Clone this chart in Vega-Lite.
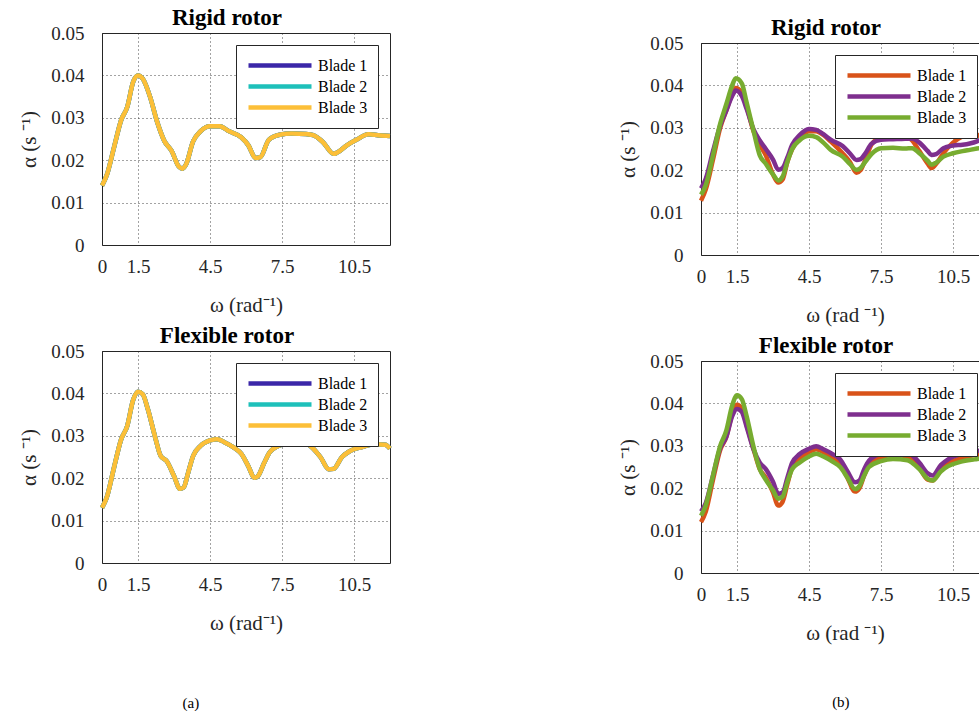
{
  "$schema": "https://vega.github.io/schema/vega-lite/v6.json",
  "padding": {"left": 18, "top": 5, "right": 0, "bottom": 0},
  "background": "white",
  "config": {
    "font": "Liberation Serif",
    "view": {"stroke": "#262626", "strokeWidth": 1},
    "axis": {
      "labelFont": "Liberation Serif", "labelFontSize": 19, "labelColor": "#262626",
      "titleFont": "Liberation Serif", "titleFontSize": 21, "titleFontWeight": "normal", "titleColor": "#262626",
      "ticks": false, "domain": false, "grid": true, "gridColor": "#262626", "gridDash": [1, 3], "gridOpacity": 0.85, "gridWidth": 1,
      "labelOverlap": false, "labelFlush": false
    },
    "axisX": {"labelPadding": 12, "titlePadding": 18},
    "axisY": {"labelPadding": 18, "titlePadding": 11},
    "legend": {
      "title": null, "orient": "top-right", "offset": 12, "symbolType": "stroke", "symbolSize": 3969,
      "symbolStrokeWidth": 4.5, "clipHeight": 21, "rowPadding": 0, "labelFont": "Liberation Serif",
      "labelFontSize": 16, "labelColor": "black", "labelOffset": 4, "padding": 10,
      "fillColor": "white", "strokeColor": "#262626"
    },
    "title": {"fontSize": 23, "fontWeight": "bold", "color": "black", "font": "Liberation Serif", "dx": -19, "offset": -6},
    "line": {"strokeWidth": 4.5, "interpolate": "monotone"}
  },
  "datasets": {
    "la": [
      {"w": 0, "Blade 1": 0.0140, "Blade 2": 0.0140, "Blade 3": 0.0140},
      {"w": 0.2, "Blade 1": 0.0165, "Blade 2": 0.0165, "Blade 3": 0.0165},
      {"w": 0.5, "Blade 1": 0.0230, "Blade 2": 0.0230, "Blade 3": 0.0230},
      {"w": 0.8, "Blade 1": 0.0295, "Blade 2": 0.0295, "Blade 3": 0.0295},
      {"w": 1.05, "Blade 1": 0.0325, "Blade 2": 0.0325, "Blade 3": 0.0325},
      {"w": 1.3, "Blade 1": 0.0385, "Blade 2": 0.0385, "Blade 3": 0.0385},
      {"w": 1.5, "Blade 1": 0.0400, "Blade 2": 0.0400, "Blade 3": 0.0400},
      {"w": 1.7, "Blade 1": 0.0392, "Blade 2": 0.0392, "Blade 3": 0.0392},
      {"w": 2.0, "Blade 1": 0.0350, "Blade 2": 0.0350, "Blade 3": 0.0350},
      {"w": 2.3, "Blade 1": 0.0290, "Blade 2": 0.0290, "Blade 3": 0.0290},
      {"w": 2.6, "Blade 1": 0.0245, "Blade 2": 0.0245, "Blade 3": 0.0245},
      {"w": 2.9, "Blade 1": 0.0222, "Blade 2": 0.0222, "Blade 3": 0.0222},
      {"w": 3.2, "Blade 1": 0.0185, "Blade 2": 0.0185, "Blade 3": 0.0185},
      {"w": 3.35, "Blade 1": 0.0180, "Blade 2": 0.0180, "Blade 3": 0.0180},
      {"w": 3.5, "Blade 1": 0.0190, "Blade 2": 0.0190, "Blade 3": 0.0190},
      {"w": 3.8, "Blade 1": 0.0245, "Blade 2": 0.0245, "Blade 3": 0.0245},
      {"w": 4.1, "Blade 1": 0.0268, "Blade 2": 0.0268, "Blade 3": 0.0268},
      {"w": 4.5, "Blade 1": 0.0280, "Blade 2": 0.0280, "Blade 3": 0.0280},
      {"w": 4.9, "Blade 1": 0.0280, "Blade 2": 0.0280, "Blade 3": 0.0280},
      {"w": 5.3, "Blade 1": 0.0268, "Blade 2": 0.0268, "Blade 3": 0.0268},
      {"w": 5.8, "Blade 1": 0.0254, "Blade 2": 0.0254, "Blade 3": 0.0254},
      {"w": 6.1, "Blade 1": 0.0235, "Blade 2": 0.0235, "Blade 3": 0.0235},
      {"w": 6.4, "Blade 1": 0.0205, "Blade 2": 0.0205, "Blade 3": 0.0205},
      {"w": 6.6, "Blade 1": 0.0207, "Blade 2": 0.0207, "Blade 3": 0.0207},
      {"w": 6.95, "Blade 1": 0.0248, "Blade 2": 0.0248, "Blade 3": 0.0248},
      {"w": 7.4, "Blade 1": 0.0260, "Blade 2": 0.0260, "Blade 3": 0.0260},
      {"w": 7.9, "Blade 1": 0.0263, "Blade 2": 0.0263, "Blade 3": 0.0263},
      {"w": 8.5, "Blade 1": 0.0262, "Blade 2": 0.0262, "Blade 3": 0.0262},
      {"w": 8.8, "Blade 1": 0.0259, "Blade 2": 0.0259, "Blade 3": 0.0259},
      {"w": 9.2, "Blade 1": 0.0243, "Blade 2": 0.0243, "Blade 3": 0.0243},
      {"w": 9.65, "Blade 1": 0.0215, "Blade 2": 0.0215, "Blade 3": 0.0215},
      {"w": 9.8, "Blade 1": 0.0218, "Blade 2": 0.0218, "Blade 3": 0.0218},
      {"w": 10.2, "Blade 1": 0.0235, "Blade 2": 0.0235, "Blade 3": 0.0235},
      {"w": 10.6, "Blade 1": 0.0248, "Blade 2": 0.0248, "Blade 3": 0.0248},
      {"w": 11.1, "Blade 1": 0.0261, "Blade 2": 0.0261, "Blade 3": 0.0261},
      {"w": 11.5, "Blade 1": 0.0259, "Blade 2": 0.0259, "Blade 3": 0.0259},
      {"w": 12.0, "Blade 1": 0.0257, "Blade 2": 0.0257, "Blade 3": 0.0257}
    ],
    "lb": [
      {"w": 0, "Blade 1": 0.0130, "Blade 2": 0.0130, "Blade 3": 0.0130},
      {"w": 0.2, "Blade 1": 0.0155, "Blade 2": 0.0155, "Blade 3": 0.0155},
      {"w": 0.5, "Blade 1": 0.0225, "Blade 2": 0.0225, "Blade 3": 0.0225},
      {"w": 0.8, "Blade 1": 0.0292, "Blade 2": 0.0292, "Blade 3": 0.0292},
      {"w": 1.05, "Blade 1": 0.0323, "Blade 2": 0.0323, "Blade 3": 0.0323},
      {"w": 1.3, "Blade 1": 0.0385, "Blade 2": 0.0385, "Blade 3": 0.0385},
      {"w": 1.5, "Blade 1": 0.0404, "Blade 2": 0.0404, "Blade 3": 0.0404},
      {"w": 1.7, "Blade 1": 0.0398, "Blade 2": 0.0398, "Blade 3": 0.0398},
      {"w": 1.9, "Blade 1": 0.0365, "Blade 2": 0.0365, "Blade 3": 0.0365},
      {"w": 2.2, "Blade 1": 0.0300, "Blade 2": 0.0300, "Blade 3": 0.0300},
      {"w": 2.45, "Blade 1": 0.0252, "Blade 2": 0.0252, "Blade 3": 0.0252},
      {"w": 2.7, "Blade 1": 0.0240, "Blade 2": 0.0240, "Blade 3": 0.0240},
      {"w": 3.0, "Blade 1": 0.0205, "Blade 2": 0.0205, "Blade 3": 0.0205},
      {"w": 3.25, "Blade 1": 0.0175, "Blade 2": 0.0175, "Blade 3": 0.0175},
      {"w": 3.4, "Blade 1": 0.0178, "Blade 2": 0.0178, "Blade 3": 0.0178},
      {"w": 3.6, "Blade 1": 0.0215, "Blade 2": 0.0215, "Blade 3": 0.0215},
      {"w": 3.8, "Blade 1": 0.0253, "Blade 2": 0.0253, "Blade 3": 0.0253},
      {"w": 4.1, "Blade 1": 0.0276, "Blade 2": 0.0276, "Blade 3": 0.0276},
      {"w": 4.5, "Blade 1": 0.0289, "Blade 2": 0.0289, "Blade 3": 0.0289},
      {"w": 4.8, "Blade 1": 0.0292, "Blade 2": 0.0292, "Blade 3": 0.0292},
      {"w": 5.1, "Blade 1": 0.0285, "Blade 2": 0.0285, "Blade 3": 0.0285},
      {"w": 5.5, "Blade 1": 0.0272, "Blade 2": 0.0272, "Blade 3": 0.0272},
      {"w": 5.8, "Blade 1": 0.0258, "Blade 2": 0.0258, "Blade 3": 0.0258},
      {"w": 6.1, "Blade 1": 0.0228, "Blade 2": 0.0228, "Blade 3": 0.0228},
      {"w": 6.35, "Blade 1": 0.0201, "Blade 2": 0.0201, "Blade 3": 0.0201},
      {"w": 6.5, "Blade 1": 0.0205, "Blade 2": 0.0205, "Blade 3": 0.0205},
      {"w": 6.75, "Blade 1": 0.0235, "Blade 2": 0.0235, "Blade 3": 0.0235},
      {"w": 7.0, "Blade 1": 0.0262, "Blade 2": 0.0262, "Blade 3": 0.0262},
      {"w": 7.5, "Blade 1": 0.0279, "Blade 2": 0.0279, "Blade 3": 0.0279},
      {"w": 8.0, "Blade 1": 0.0283, "Blade 2": 0.0283, "Blade 3": 0.0283},
      {"w": 8.6, "Blade 1": 0.0279, "Blade 2": 0.0279, "Blade 3": 0.0279},
      {"w": 8.8, "Blade 1": 0.0270, "Blade 2": 0.0270, "Blade 3": 0.0270},
      {"w": 9.1, "Blade 1": 0.0250, "Blade 2": 0.0250, "Blade 3": 0.0250},
      {"w": 9.45, "Blade 1": 0.0221, "Blade 2": 0.0221, "Blade 3": 0.0221},
      {"w": 9.65, "Blade 1": 0.0222, "Blade 2": 0.0222, "Blade 3": 0.0222},
      {"w": 10.0, "Blade 1": 0.0250, "Blade 2": 0.0250, "Blade 3": 0.0250},
      {"w": 10.3, "Blade 1": 0.0263, "Blade 2": 0.0263, "Blade 3": 0.0263},
      {"w": 10.8, "Blade 1": 0.0273, "Blade 2": 0.0273, "Blade 3": 0.0273},
      {"w": 11.4, "Blade 1": 0.0280, "Blade 2": 0.0280, "Blade 3": 0.0280},
      {"w": 11.8, "Blade 1": 0.0279, "Blade 2": 0.0279, "Blade 3": 0.0279},
      {"w": 12.0, "Blade 1": 0.0270, "Blade 2": 0.0270, "Blade 3": 0.0270}
    ],
    "ra": [
      {"w": 0, "Blade 1": 0.0128, "Blade 2": 0.0157, "Blade 3": 0.0142},
      {"w": 0.2, "Blade 1": 0.0155, "Blade 2": 0.0180, "Blade 3": 0.0165},
      {"w": 0.5, "Blade 1": 0.0225, "Blade 2": 0.0245, "Blade 3": 0.0235},
      {"w": 0.8, "Blade 1": 0.0300, "Blade 2": 0.0305, "Blade 3": 0.0310},
      {"w": 1.05, "Blade 1": 0.0340, "Blade 2": 0.0340, "Blade 3": 0.0355},
      {"w": 1.3, "Blade 1": 0.0380, "Blade 2": 0.0375, "Blade 3": 0.0400},
      {"w": 1.45, "Blade 1": 0.0394, "Blade 2": 0.0388, "Blade 3": 0.0417},
      {"w": 1.7, "Blade 1": 0.0383, "Blade 2": 0.0375, "Blade 3": 0.0405},
      {"w": 1.9, "Blade 1": 0.0350, "Blade 2": 0.0345, "Blade 3": 0.0360},
      {"w": 2.2, "Blade 1": 0.0290, "Blade 2": 0.0295, "Blade 3": 0.0290},
      {"w": 2.45, "Blade 1": 0.0260, "Blade 2": 0.0270, "Blade 3": 0.0235},
      {"w": 2.7, "Blade 1": 0.0235, "Blade 2": 0.0250, "Blade 3": 0.0215},
      {"w": 3.0, "Blade 1": 0.0190, "Blade 2": 0.0225, "Blade 3": 0.0190},
      {"w": 3.22, "Blade 1": 0.0171, "Blade 2": 0.0201, "Blade 3": 0.0176},
      {"w": 3.4, "Blade 1": 0.0178, "Blade 2": 0.0205, "Blade 3": 0.0185},
      {"w": 3.6, "Blade 1": 0.0220, "Blade 2": 0.0230, "Blade 3": 0.0220},
      {"w": 3.8, "Blade 1": 0.0250, "Blade 2": 0.0260, "Blade 3": 0.0250},
      {"w": 4.1, "Blade 1": 0.0275, "Blade 2": 0.0282, "Blade 3": 0.0270},
      {"w": 4.5, "Blade 1": 0.0292, "Blade 2": 0.0297, "Blade 3": 0.0281},
      {"w": 4.8, "Blade 1": 0.0292, "Blade 2": 0.0295, "Blade 3": 0.0278},
      {"w": 5.1, "Blade 1": 0.0283, "Blade 2": 0.0285, "Blade 3": 0.0265},
      {"w": 5.4, "Blade 1": 0.0268, "Blade 2": 0.0272, "Blade 3": 0.0248},
      {"w": 5.9, "Blade 1": 0.0240, "Blade 2": 0.0257, "Blade 3": 0.0232},
      {"w": 6.2, "Blade 1": 0.0220, "Blade 2": 0.0240, "Blade 3": 0.0215},
      {"w": 6.48, "Blade 1": 0.0194, "Blade 2": 0.0224, "Blade 3": 0.0201},
      {"w": 6.65, "Blade 1": 0.0200, "Blade 2": 0.0226, "Blade 3": 0.0205},
      {"w": 6.85, "Blade 1": 0.0225, "Blade 2": 0.0240, "Blade 3": 0.0220},
      {"w": 7.1, "Blade 1": 0.0260, "Blade 2": 0.0262, "Blade 3": 0.0238},
      {"w": 7.5, "Blade 1": 0.0280, "Blade 2": 0.0272, "Blade 3": 0.0252},
      {"w": 8.0, "Blade 1": 0.0289, "Blade 2": 0.0273, "Blade 3": 0.0253},
      {"w": 8.5, "Blade 1": 0.0282, "Blade 2": 0.0274, "Blade 3": 0.0251},
      {"w": 8.8, "Blade 1": 0.0270, "Blade 2": 0.0275, "Blade 3": 0.0252},
      {"w": 9.1, "Blade 1": 0.0245, "Blade 2": 0.0265, "Blade 3": 0.0240},
      {"w": 9.45, "Blade 1": 0.0215, "Blade 2": 0.0245, "Blade 3": 0.0222},
      {"w": 9.6, "Blade 1": 0.0205, "Blade 2": 0.0236, "Blade 3": 0.0213},
      {"w": 9.8, "Blade 1": 0.0215, "Blade 2": 0.0238, "Blade 3": 0.0218},
      {"w": 10.1, "Blade 1": 0.0240, "Blade 2": 0.0252, "Blade 3": 0.0232},
      {"w": 10.5, "Blade 1": 0.0265, "Blade 2": 0.0258, "Blade 3": 0.0240},
      {"w": 10.9, "Blade 1": 0.0280, "Blade 2": 0.0260, "Blade 3": 0.0245},
      {"w": 11.2, "Blade 1": 0.0287, "Blade 2": 0.0263, "Blade 3": 0.0248},
      {"w": 11.5, "Blade 1": 0.0284, "Blade 2": 0.0268, "Blade 3": 0.0251},
      {"w": 11.8, "Blade 1": 0.0274, "Blade 2": 0.0276, "Blade 3": 0.0254},
      {"w": 12.0, "Blade 1": 0.0268, "Blade 2": 0.0280, "Blade 3": 0.0256}
    ],
    "rb": [
      {"w": 0, "Blade 1": 0.0120, "Blade 2": 0.0145, "Blade 3": 0.0135},
      {"w": 0.2, "Blade 1": 0.0145, "Blade 2": 0.0165, "Blade 3": 0.0160},
      {"w": 0.5, "Blade 1": 0.0220, "Blade 2": 0.0230, "Blade 3": 0.0230},
      {"w": 0.8, "Blade 1": 0.0290, "Blade 2": 0.0295, "Blade 3": 0.0300},
      {"w": 1.05, "Blade 1": 0.0320, "Blade 2": 0.0320, "Blade 3": 0.0335},
      {"w": 1.3, "Blade 1": 0.0375, "Blade 2": 0.0370, "Blade 3": 0.0395},
      {"w": 1.5, "Blade 1": 0.0397, "Blade 2": 0.0387, "Blade 3": 0.0419},
      {"w": 1.7, "Blade 1": 0.0388, "Blade 2": 0.0380, "Blade 3": 0.0410},
      {"w": 1.9, "Blade 1": 0.0350, "Blade 2": 0.0345, "Blade 3": 0.0370},
      {"w": 2.2, "Blade 1": 0.0290, "Blade 2": 0.0290, "Blade 3": 0.0295},
      {"w": 2.45, "Blade 1": 0.0245, "Blade 2": 0.0260, "Blade 3": 0.0245},
      {"w": 2.7, "Blade 1": 0.0225, "Blade 2": 0.0245, "Blade 3": 0.0220},
      {"w": 3.0, "Blade 1": 0.0190, "Blade 2": 0.0215, "Blade 3": 0.0195},
      {"w": 3.22, "Blade 1": 0.0159, "Blade 2": 0.0187, "Blade 3": 0.0175},
      {"w": 3.4, "Blade 1": 0.0168, "Blade 2": 0.0190, "Blade 3": 0.0180},
      {"w": 3.6, "Blade 1": 0.0210, "Blade 2": 0.0225, "Blade 3": 0.0215},
      {"w": 3.8, "Blade 1": 0.0250, "Blade 2": 0.0260, "Blade 3": 0.0245},
      {"w": 4.1, "Blade 1": 0.0270, "Blade 2": 0.0280, "Blade 3": 0.0260},
      {"w": 4.5, "Blade 1": 0.0285, "Blade 2": 0.0293, "Blade 3": 0.0275},
      {"w": 4.8, "Blade 1": 0.0292, "Blade 2": 0.0299, "Blade 3": 0.0281},
      {"w": 5.1, "Blade 1": 0.0285, "Blade 2": 0.0292, "Blade 3": 0.0275},
      {"w": 5.5, "Blade 1": 0.0272, "Blade 2": 0.0280, "Blade 3": 0.0262},
      {"w": 5.8, "Blade 1": 0.0260, "Blade 2": 0.0268, "Blade 3": 0.0250},
      {"w": 6.1, "Blade 1": 0.0225, "Blade 2": 0.0240, "Blade 3": 0.0225},
      {"w": 6.42, "Blade 1": 0.0192, "Blade 2": 0.0214, "Blade 3": 0.0198},
      {"w": 6.6, "Blade 1": 0.0200, "Blade 2": 0.0218, "Blade 3": 0.0205},
      {"w": 6.8, "Blade 1": 0.0230, "Blade 2": 0.0245, "Blade 3": 0.0230},
      {"w": 7.0, "Blade 1": 0.0255, "Blade 2": 0.0265, "Blade 3": 0.0250},
      {"w": 7.5, "Blade 1": 0.0272, "Blade 2": 0.0282, "Blade 3": 0.0264},
      {"w": 8.0, "Blade 1": 0.0279, "Blade 2": 0.0287, "Blade 3": 0.0269},
      {"w": 8.6, "Blade 1": 0.0275, "Blade 2": 0.0285, "Blade 3": 0.0266},
      {"w": 8.8, "Blade 1": 0.0268, "Blade 2": 0.0278, "Blade 3": 0.0260},
      {"w": 9.1, "Blade 1": 0.0248, "Blade 2": 0.0260, "Blade 3": 0.0245},
      {"w": 9.45, "Blade 1": 0.0220, "Blade 2": 0.0235, "Blade 3": 0.0222},
      {"w": 9.65, "Blade 1": 0.0218, "Blade 2": 0.0230, "Blade 3": 0.0218},
      {"w": 10.0, "Blade 1": 0.0245, "Blade 2": 0.0255, "Blade 3": 0.0240},
      {"w": 10.3, "Blade 1": 0.0258, "Blade 2": 0.0268, "Blade 3": 0.0252},
      {"w": 10.8, "Blade 1": 0.0270, "Blade 2": 0.0280, "Blade 3": 0.0262},
      {"w": 11.4, "Blade 1": 0.0278, "Blade 2": 0.0287, "Blade 3": 0.0268},
      {"w": 11.8, "Blade 1": 0.0281, "Blade 2": 0.0289, "Blade 3": 0.0271},
      {"w": 12.0, "Blade 1": 0.0281, "Blade 2": 0.0288, "Blade 3": 0.0270}
    ]
  },
  "hconcat": [
    {
      "spacing": 0,
      "vconcat": [
        {"width": 288, "height": 1, "data": {"values": []}, "mark": {"type": "point"}, "encoding": {}, "view": {"stroke": null}},
        {
          "title": {"text": "(a)", "orient": "bottom", "anchor": "middle", "fontSize": 15, "fontWeight": "normal", "dx": -18, "offset": 62},
          "spacing": 8,
          "vconcat": [
            {
              "title": {"text": "Rigid rotor"},
              "width": 288, "height": 212,
              "data": {"name": "la"},
              "transform": [{"fold": ["Blade 1", "Blade 2", "Blade 3"], "as": ["blade", "alpha"]}],
              "mark": {"type": "line"},
              "encoding": {
                "x": {"field": "w", "type": "quantitative", "scale": {"domain": [0, 12], "nice": false}, "axis": {"values": [0, 1.5, 4.5, 7.5, 10.5], "format": ".1~f", "title": "ω (rad⁻¹)"}},
                "y": {"field": "alpha", "type": "quantitative", "scale": {"domain": [0, 0.05], "nice": false}, "axis": {"values": [0, 0.01, 0.02, 0.03, 0.04, 0.05], "format": ".2~f", "title": "α (s ⁻¹)"}},
                "color": {"field": "blade", "type": "nominal", "scale": {"domain": ["Blade 1", "Blade 2", "Blade 3"], "range": ["#3b27a8", "#1ec0ba", "#fcbf38"]}, "legend": {"labelFont": "Liberation Serif"}}
              }
            },
            {
              "title": {"text": "Flexible rotor"},
              "width": 288, "height": 212,
              "data": {"name": "lb"},
              "transform": [{"fold": ["Blade 1", "Blade 2", "Blade 3"], "as": ["blade", "alpha"]}],
              "mark": {"type": "line"},
              "encoding": {
                "x": {"field": "w", "type": "quantitative", "scale": {"domain": [0, 12], "nice": false}, "axis": {"values": [0, 1.5, 4.5, 7.5, 10.5], "format": ".1~f", "title": "ω (rad⁻¹)"}},
                "y": {"field": "alpha", "type": "quantitative", "scale": {"domain": [0, 0.05], "nice": false}, "axis": {"values": [0, 0.01, 0.02, 0.03, 0.04, 0.05], "format": ".2~f", "title": "α (s ⁻¹)"}},
                "color": {"field": "blade", "type": "nominal", "scale": {"domain": ["Blade 1", "Blade 2", "Blade 3"], "range": ["#3b27a8", "#1ec0ba", "#fcbf38"]}, "legend": {"labelFont": "Liberation Serif"}}
              }
            }
          ],
          "resolve": {"scale": {"color": "independent"}}
        }
      ],
      "resolve": {"scale": {"color": "independent"}}
    },
    {
      "spacing": 0,
      "vconcat": [
        {"width": 288, "height": 11, "data": {"values": []}, "mark": {"type": "point"}, "encoding": {}, "view": {"stroke": null}},
        {
          "title": {"text": "(b)", "orient": "bottom", "anchor": "middle", "fontSize": 15, "fontWeight": "normal", "dx": 33, "offset": 51},
          "spacing": 8,
          "vconcat": [
            {
              "title": {"text": "Rigid rotor"},
              "width": 288, "height": 212,
              "data": {"name": "ra"},
              "transform": [{"fold": ["Blade 1", "Blade 2", "Blade 3"], "as": ["blade", "alpha"]}],
              "mark": {"type": "line"},
              "encoding": {
                "x": {"field": "w", "type": "quantitative", "scale": {"domain": [0, 12], "nice": false}, "axis": {"values": [0, 1.5, 4.5, 7.5, 10.5], "format": ".1~f", "title": "ω (rad ⁻¹)"}},
                "y": {"field": "alpha", "type": "quantitative", "scale": {"domain": [0, 0.05], "nice": false}, "axis": {"values": [0, 0.01, 0.02, 0.03, 0.04, 0.05], "format": ".2~f", "title": "α (s ⁻¹)"}},
                "color": {"field": "blade", "type": "nominal", "scale": {"domain": ["Blade 1", "Blade 2", "Blade 3"], "range": ["#d95319", "#7e2f8e", "#77ac30"]}, "legend": {"labelFont": "Liberation Serif"}}
              }
            },
            {
              "title": {"text": "Flexible rotor"},
              "width": 288, "height": 212,
              "data": {"name": "rb"},
              "transform": [{"fold": ["Blade 1", "Blade 2", "Blade 3"], "as": ["blade", "alpha"]}],
              "mark": {"type": "line"},
              "encoding": {
                "x": {"field": "w", "type": "quantitative", "scale": {"domain": [0, 12], "nice": false}, "axis": {"values": [0, 1.5, 4.5, 7.5, 10.5], "format": ".1~f", "title": "ω (rad ⁻¹)"}},
                "y": {"field": "alpha", "type": "quantitative", "scale": {"domain": [0, 0.05], "nice": false}, "axis": {"values": [0, 0.01, 0.02, 0.03, 0.04, 0.05], "format": ".2~f", "title": "α (s ⁻¹)"}},
                "color": {"field": "blade", "type": "nominal", "scale": {"domain": ["Blade 1", "Blade 2", "Blade 3"], "range": ["#d95319", "#7e2f8e", "#77ac30"]}, "legend": {"labelFont": "Liberation Serif"}}
              }
            }
          ],
          "resolve": {"scale": {"color": "independent"}}
        }
      ],
      "resolve": {"scale": {"color": "independent"}}
    }
  ],
  "spacing": 217,
  "resolve": {"scale": {"color": "independent"}}
}
